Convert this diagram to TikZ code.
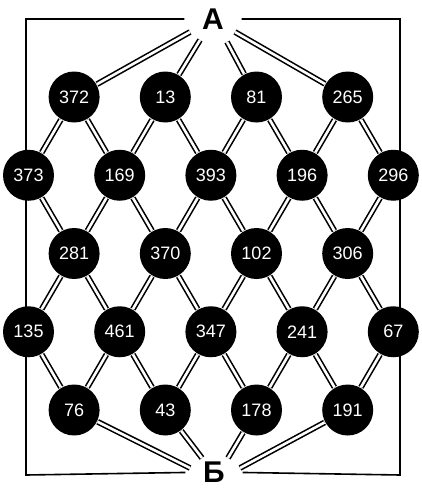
\documentclass[tikz,border=0pt]{standalone}
\usepackage{fontspec}
\setmainfont{Liberation Sans}

\begin{document}
\begin{tikzpicture}[x=1pt,y=-1pt,line width=1.6pt,
  ball/.style={circle,fill=black,minimum size=51pt,inner sep=0pt,
    text=white,font=\fontsize{18}{18}\selectfont},
  bar/.style={double,double distance=2.6pt,line width=1.6pt},
  pole/.style={font=\fontsize{30}{30}\selectfont\bfseries,inner xsep=17pt,inner ysep=0pt}]
\useasboundingbox (0,0) rectangle (422,491);
\def\xo{28.5}  % first column
\def\yo{97}    % first row
\def\dx{45.6}  % half column step
\def\dy{78.25} % row step
% terminals and outer wire
\node[pole] (A) at (213,19) {А};
\node[pole] (B) at (214,472) {Б};
\coordinate (wl) at (26,475);
\coordinate (wr) at (400,475);
\draw (A) -| (wl) -- (B);
\draw (A) -| (wr) -- (B);
% balls
\foreach \c/\r/\t in {1/0/372,3/0/13,5/0/81,7/0/265,
    0/1/373,2/1/169,4/1/393,6/1/196,8/1/296,
    1/2/281,3/2/370,5/2/102,7/2/306,
    0/3/135,2/3/461,4/3/347,6/3/241,8/3/67,
    1/4/76,3/4/43,5/4/178,7/4/191}
  \node[ball] (n\c\r) at ({\xo+\c*\dx},{\yo+\r*\dy}) {\t};
% rods of the net
\foreach \c in {1,3,5,7}{
  \foreach \r in {1,3}{
    \pgfmathtruncatemacro{\cL}{\c-1}
    \pgfmathtruncatemacro{\cR}{\c+1}
    \pgfmathtruncatemacro{\rU}{\r-1}
    \pgfmathtruncatemacro{\rD}{\r+1}
    \draw[bar] (n\cL\r) -- (n\c\rU) -- (n\cR\r) -- (n\c\rD) -- (n\cL\r);
}}
% rods to the terminals
\coordinate (a1) at (190,32);
\coordinate (a2) at (200,40);
\coordinate (a3) at (227,42);
\coordinate (a4) at (235,32);
\coordinate (b1) at (190,468);
\coordinate (b2) at (202,458);
\coordinate (b3) at (228,458);
\coordinate (b4) at (240,468);
\foreach \c/\k in {1/1,3/2,5/3,7/4}{
  \draw[bar] (n\c0) -- (a\k);
  \draw[bar] (n\c4) -- (b\k);
}
\end{tikzpicture}
\end{document}
